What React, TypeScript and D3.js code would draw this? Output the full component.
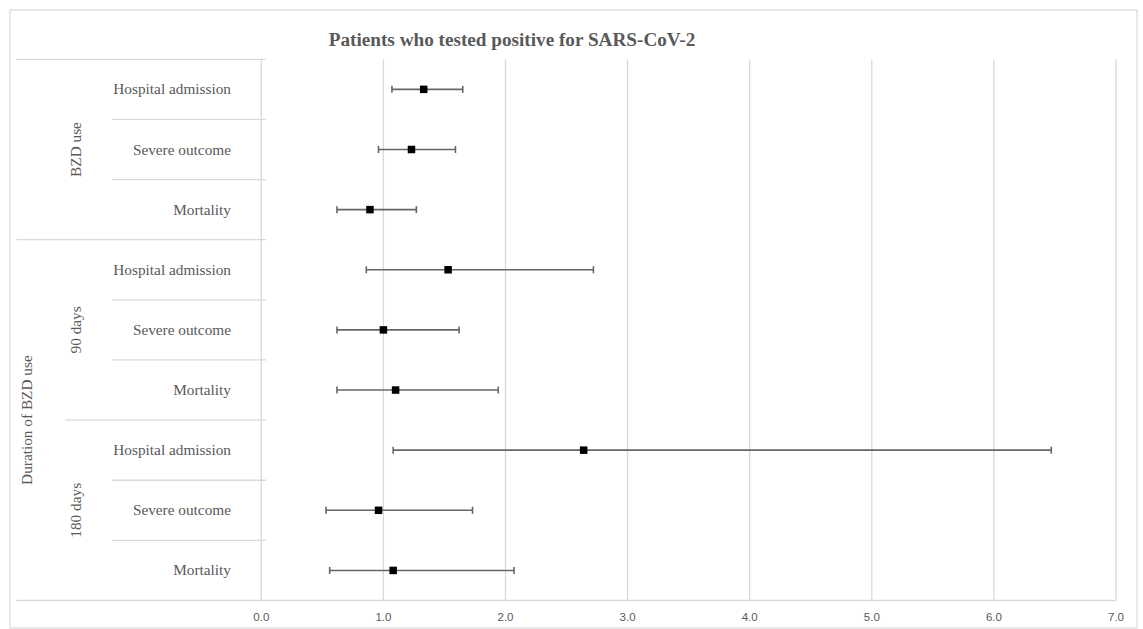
import React from "react";
import * as d3 from "d3";

const title = "Patients who tested positive for SARS-CoV-2";
const outcomes = [
  "Hospital admission", "Severe outcome", "Mortality",
  "Hospital admission", "Severe outcome", "Mortality",
  "Hospital admission", "Severe outcome", "Mortality",
];
const estimates = [1.33, 1.23, 0.89, 1.53, 1.0, 1.1, 2.64, 0.96, 1.08];
const lowerCI = [1.07, 0.96, 0.62, 0.86, 0.62, 0.62, 1.08, 0.53, 0.56];
const upperCI = [1.65, 1.59, 1.27, 2.72, 1.62, 1.94, 6.47, 1.73, 2.07];
const subGroups = ["BZD use", "90 days", "180 days"];
const subGroupStart = [0, 3, 6];
const topGroups = ["Duration of BZD use"];
const topGroupStart = [3];
const topGroupEnd = [9];
const xTicks = [0, 1, 2, 3, 4, 5, 6, 7];

const W = 1143, H = 629;
const grid = "#d9d9d9";
const textCol = "#595959";

export default function App() {
  const x = d3.scaleLinear().domain([0, 7]).range([261.3, 1116]);
  const rows = d3.range(outcomes.length);
  const y = d3.scaleBand<number>().domain(rows).range([59.3, 600.5]);
  const bw = y.bandwidth();
  const yTop = 59.3, yBot = 600.5;
  const cap = 3.5, ms = 7.5;
  const serif = "'Liberation Serif', 'Times New Roman', serif";
  const sans = "'Liberation Sans', Arial, sans-serif";

  const seps: { y: number; x1: number }[] = [];
  rows.forEach((i) => {
    if (i === 0) return;
    const yy = y(i)!;
    let x1 = 112;
    if (subGroupStart.includes(i)) x1 = 65;
    if (topGroupStart.includes(i)) x1 = 16.5;
    seps.push({ y: yy, x1 });
  });

  return (
    <svg width={W} height={H} style={{ position: "absolute", left: 0, top: 0, background: "#fff" }}>
      <rect x={10} y={10} width={1127} height={618} fill="#fff" stroke={grid} strokeWidth={1.2} />
      <text x={512} y={45.5} textAnchor="middle" fontFamily={serif} fontWeight="bold" fontSize={19.2} fill={textCol}>
        {title}
      </text>
      {xTicks.map((t) => (
        <line key={"g" + t} x1={x(t)} x2={x(t)} y1={yTop} y2={yBot} stroke={grid} strokeWidth={1.3} />
      ))}
      {xTicks.map((t) => (
        <text key={"t" + t} x={x(t)} y={621} textAnchor="middle" fontFamily={sans} fontSize={11.5} fill={textCol}>
          {t.toFixed(1)}
        </text>
      ))}
      <line x1={16.5} x2={266} y1={yTop} y2={yTop} stroke={grid} strokeWidth={1.3} />
      <line x1={16.5} x2={1116} y1={yBot} y2={yBot} stroke={grid} strokeWidth={1.3} />
      {seps.map((s, i) => (
        <line key={"s" + i} x1={s.x1} x2={266} y1={s.y} y2={s.y} stroke={grid} strokeWidth={1.3} />
      ))}
      {rows.map((i) => (
        <text key={"l" + i} x={231} y={y(i)! + bw / 2 + 5} textAnchor="end" fontFamily={serif} fontSize={15.3} fill={textCol}>
          {outcomes[i]}
        </text>
      ))}
      {subGroups.map((g, k) => {
        const start = subGroupStart[k];
        const end = k + 1 < subGroupStart.length ? subGroupStart[k + 1] : outcomes.length;
        const cy = (y(start)! + y(end - 1)! + bw) / 2;
        return (
          <text key={"sg" + k} transform={`translate(${80.5},${cy}) rotate(-90)`} textAnchor="middle" fontFamily={serif} fontSize={15.3} fill={textCol}>
            {g}
          </text>
        );
      })}
      {topGroups.map((g, k) => {
        const cy = (y(topGroupStart[k])! + y(topGroupEnd[k] - 1)! + bw) / 2;
        return (
          <text key={"tg" + k} transform={`translate(${32},${cy}) rotate(-90)`} textAnchor="middle" fontFamily={serif} fontSize={15.3} fill={textCol}>
            {g}
          </text>
        );
      })}
      {rows.map((i) => {
        const cy = y(i)! + bw / 2;
        return (
          <g key={"e" + i}>
            <line x1={x(lowerCI[i])} x2={x(upperCI[i])} y1={cy} y2={cy} stroke="#666" strokeWidth={1.6} />
            <line x1={x(lowerCI[i])} x2={x(lowerCI[i])} y1={cy - cap} y2={cy + cap} stroke="#666" strokeWidth={1.6} />
            <line x1={x(upperCI[i])} x2={x(upperCI[i])} y1={cy - cap} y2={cy + cap} stroke="#666" strokeWidth={1.6} />
            <rect x={x(estimates[i]) - ms / 2} y={cy - ms / 2} width={ms} height={ms} fill="#000" />
          </g>
        );
      })}
    </svg>
  );
}
